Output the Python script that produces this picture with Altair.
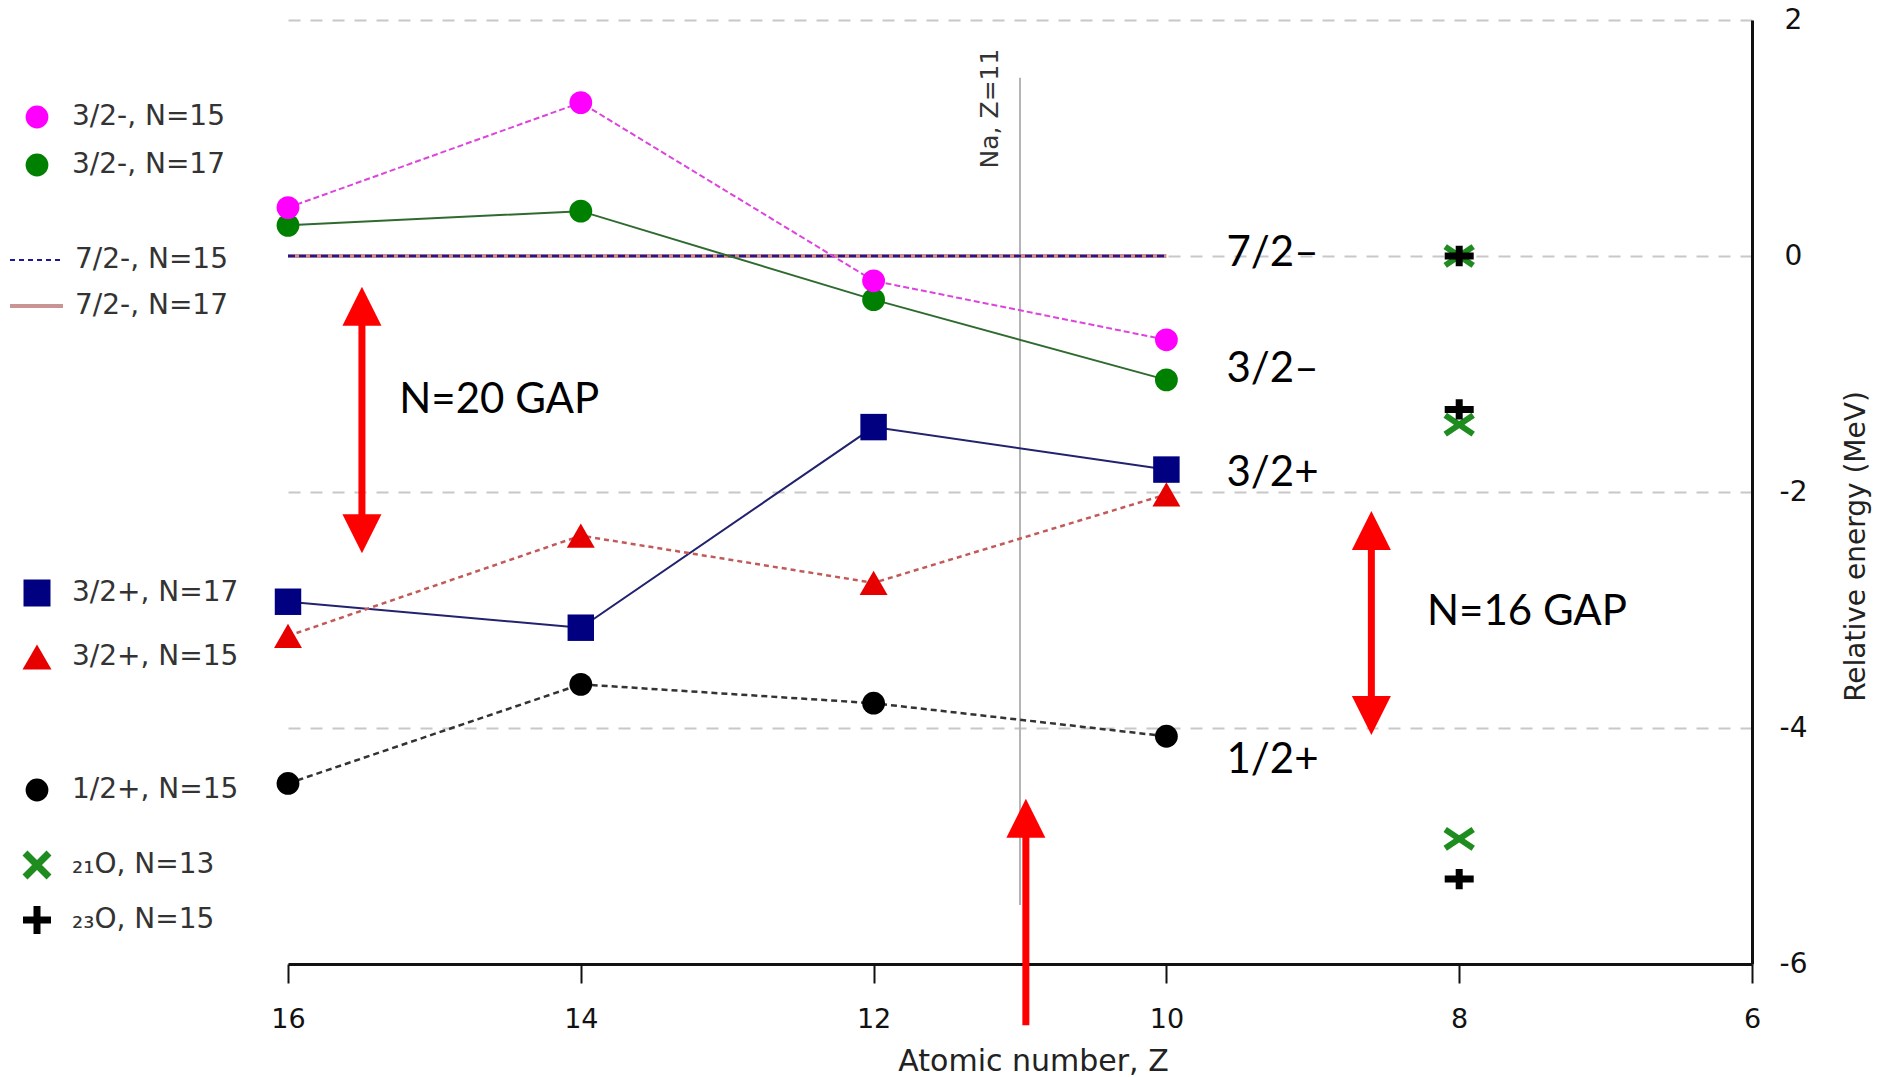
import altair as alt
import pandas as pd

# ---- single-particle level energies (MeV) relative to 7/2- -----------------
Z_CHAIN = [16, 14, 12, 10]            # S, Si, Mg, Ne isotone chains
Z_OXYGEN = [8, 8, 8]

E_3_2M_N15 = [0.41, 1.30, -0.21, -0.71]
E_3_2M_N17 = [0.26, 0.38, -0.37, -1.05]
E_7_2M_N15 = [0.0, 0.0, 0.0, 0.0]
E_7_2M_N17 = [0.0, 0.0, 0.0, 0.0]
E_3_2P_N17 = [-2.93, -3.15, -1.45, -1.81]
E_3_2P_N15 = [-3.22, -2.37, -2.77, -2.02]
E_1_2P_N15 = [-4.47, -3.63, -3.79, -4.07]
E_O21_N13 = [0.0, -1.43, -4.94]
E_O23_N15 = [0.0, -1.30, -5.28]

X_TICKS = [16, 14, 12, 10, 8, 6]
Y_TICKS = [-6, -4, -2, 0, 2]

# level names written next to the Z=10 end of the chains
LEVEL_NAMES = ["7/2\u2013", "3/2\u2013", "3/2+", "1/2+"]
LEVEL_NAME_E = [-0.085, -1.07, -1.95, -4.38]
LEVEL_NAME_Z = 9.59

# shell-gap annotations: (Z, upper tip, lower tip)
GAP_ARROWS = [(15.495, -0.26, -2.52), (8.60, -2.16, -4.06)]
GAP_TEXT = ["N=20 GAP", "N=16 GAP"]
GAP_TEXT_Z = [15.24, 8.22]
GAP_TEXT_E = [-1.33, -3.13]

NA_Z = 11
NA_LINE = (1.51, -5.50)
NA_LABEL_E = 1.25
NA_ARROW = (10.96, -4.60, -6.52)

# ---- shared scales and axes -------------------------------------------------
AXIS_FONT = "DejaVu Sans"
NOTE_FONT = "Lato"
PLAIN_LABEL = "'' + datum.value"   # keep an ASCII hyphen for negatives

XS = alt.Scale(domain=[6, 16], reverse=True, nice=False, zero=False)
YS = alt.Scale(domain=[-6, 2], nice=False, zero=False)

X_AXIS = alt.Axis(
    values=X_TICKS, labelExpr=PLAIN_LABEL, grid=False, orient="bottom",
    domainColor="#111111", domainWidth=3, tickColor="#111111", tickWidth=2,
    tickSize=19, labelFont=AXIS_FONT, labelFontSize=27, labelColor="#111111",
    labelPadding=44, labelBaseline="alphabetic", labelFlush=False,
    title="Atomic number, Z", titleFont=AXIS_FONT, titleFontSize=30,
    titleFontWeight="normal", titleColor="#222222", titleX=745, titleY=106,
    titleBaseline="alphabetic", titleAlign="center")
Y_AXIS = alt.Axis(
    values=Y_TICKS, labelExpr=PLAIN_LABEL, orient="right", grid=True,
    gridColor="#c8c8c8", gridDash=[12, 10], gridWidth=2,
    domainColor="#111111", domainWidth=3, ticks=False,
    labelFont=AXIS_FONT, labelFontSize=28, labelColor="#111111",
    labelPadding=41, labelAlign="center",
    title="Relative energy (MeV)", titleFont=AXIS_FONT, titleFontSize=28,
    titleFontWeight="normal", titleColor="#222222", titleAngle=270,
    titleX=112, titleY=526, titleBaseline="alphabetic", titleAlign="center")

X = alt.X("Z:Q", scale=XS, axis=X_AXIS)
Y = alt.Y("E:Q", scale=YS, axis=Y_AXIS)
Y2 = alt.Y2("E2:Q")

X_PATH = "M-1,-0.67L1,0.67M-1,0.67L1,-0.67"
PLUS_PATH = "M-1,0L1,0M0,-0.7L0,0.7"
X_PATH_SQ = "M-1,-1L1,1M-1,1L1,-1"
PLUS_PATH_SQ = "M-1,0L1,0M0,-1L0,1"
HEAD_UP = "M0,-1L1,1L-1,1Z"
HEAD_DOWN = "M0,1L1,-1L-1,-1Z"

CIRCLE = 520
SQUARE = 700
TRIANGLE = 780


def frame(z, e, e2=None):
    d = {"Z": z, "E": e}
    if e2 is not None:
        d["E2"] = e2
    return pd.DataFrame(d)


def one():
    return pd.DataFrame({"k": [0]})


layers = []

# Na (Z=11) marker line and its label
layers.append(alt.Chart(frame([NA_Z], [NA_LINE[0]], [NA_LINE[1]])).mark_rule(
    color="#b4b4b4", strokeWidth=2).encode(x=X, y=Y, y2=Y2))
layers.append(alt.Chart(frame([NA_Z], [NA_LABEL_E])).mark_text(
    text="Na, Z=11", angle=270, align="center", baseline="alphabetic",
    font=AXIS_FONT, fontSize=25, color="#333333", xOffset=-22).encode(x=X, y=Y))


# connecting lines
def line(values, color, width, dash=None):
    kw = dict(color=color, strokeWidth=width)
    if dash:
        kw["strokeDash"] = dash
    return alt.Chart(frame(Z_CHAIN, values)).mark_line(**kw).encode(x=X, y=Y)


layers += [
    line(E_7_2M_N17, "#d08c8c", 4),
    line(E_7_2M_N15, "#1a1a99", 2.5, [7, 4]),
    line(E_3_2M_N15, "#dd44dd", 2, [6, 3]),
    line(E_3_2M_N17, "#2f6b2f", 2),
    line(E_3_2P_N17, "#22226e", 2),
    line(E_3_2P_N15, "#c25a5a", 2.5, [5, 4]),
    line(E_1_2P_N15, "#333333", 2.5, [6, 4]),
]


# markers
def points(z, values, shape, color, size):
    return alt.Chart(frame(z, values)).mark_point(
        shape=shape, filled=True, color=color, size=size, opacity=1).encode(x=X, y=Y)


def strokes(z, values, shape, color, size, width):
    return alt.Chart(frame(z, values)).mark_point(
        shape=shape, filled=False, color=color, size=size, strokeWidth=width,
        opacity=1).encode(x=X, y=Y)


layers += [
    points(Z_CHAIN, E_3_2M_N17, "circle", "#008000", CIRCLE),
    points(Z_CHAIN, E_3_2M_N15, "circle", "#ff00ff", CIRCLE),
    points(Z_CHAIN, E_3_2P_N15, "triangle-up", "#e60000", TRIANGLE),
    points(Z_CHAIN, E_3_2P_N17, "square", "#000080", SQUARE),
    points(Z_CHAIN, E_1_2P_N15, "circle", "#000000", CIRCLE),
    strokes(Z_OXYGEN, E_O21_N13, X_PATH, "#1e8c1e", 784, 6),
    strokes(Z_OXYGEN, E_O23_N15, PLUS_PATH, "#000000", 841, 7),
]

# level names
names = frame([LEVEL_NAME_Z] * len(LEVEL_NAMES), LEVEL_NAME_E).assign(t=LEVEL_NAMES)
layers.append(alt.Chart(names).mark_text(
    align="left", baseline="alphabetic", font=NOTE_FONT, fontSize=42,
    color="#000000").encode(x=X, y=Y, text="t:N"))

# gap annotations
gaps = frame(GAP_TEXT_Z, GAP_TEXT_E).assign(t=GAP_TEXT)
layers.append(alt.Chart(gaps).mark_text(
    align="left", baseline="alphabetic", font=NOTE_FONT, fontSize=42,
    color="#000000").encode(x=X, y=Y, text="t:N"))

RED = "#ff0000"
HEAD = 39


def head(z, e, path, offset):
    return alt.Chart(frame([z], [e])).mark_point(
        shape=path, filled=True, color=RED, size=HEAD * HEAD, opacity=1,
        yOffset=offset).encode(x=X, y=Y)


for z, top, bottom in GAP_ARROWS:
    layers.append(alt.Chart(frame([z], [top - 0.25], [bottom + 0.25])).mark_rule(
        color=RED, strokeWidth=7).encode(x=X, y=Y, y2=Y2))
    layers.append(head(z, top, HEAD_UP, HEAD / 2))
    layers.append(head(z, bottom, HEAD_DOWN, -HEAD / 2))

az, atip, atail = NA_ARROW
layers.append(alt.Chart(frame([az], [atip - 0.25], [atail])).mark_rule(
    color=RED, strokeWidth=7).encode(x=X, y=Y, y2=Y2))
layers.append(head(az, atip, HEAD_UP, HEAD / 2))

# ---- hand-placed legend in the left margin (pixel offsets from plot origin) --
LEG_SYM_X = -251
LEG_TXT_X = -216
LEGEND = [
    ("3/2-, N=15", 97, "point", dict(shape="circle", color="#ff00ff", size=CIRCLE, filled=True)),
    ("3/2-, N=17", 145, "point", dict(shape="circle", color="#008000", size=CIRCLE, filled=True)),
    ("7/2-, N=15", 240, "line", dict(color="#1a1a99", strokeWidth=2, strokeDash=[5, 4])),
    ("7/2-, N=17", 286, "line", dict(color="#c99494", strokeWidth=4)),
    ("3/2+, N=17", 573, "point", dict(shape="square", color="#000080", size=729, filled=True)),
    ("3/2+, N=15", 637, "point", dict(shape="triangle-up", color="#e60000", size=841, filled=True)),
    ("1/2+, N=15", 770, "point", dict(shape="circle", color="#000000", size=CIRCLE, filled=True)),
    ("\u2082\u2081O, N=13", 845, "point", dict(shape=X_PATH_SQ, color="#1e8c1e", size=576, filled=False, strokeWidth=7)),
    ("\u2082\u2083O, N=15", 900, "point", dict(shape=PLUS_PATH_SQ, color="#000000", size=784, filled=False, strokeWidth=7)),
]
for label, ly, kind, style in LEGEND:
    if kind == "point":
        layers.append(alt.Chart(one()).mark_point(opacity=1, **style).encode(
            x=alt.value(LEG_SYM_X), y=alt.value(ly)))
        tx = LEG_TXT_X
    else:
        layers.append(alt.Chart(one()).mark_rule(**style).encode(
            x=alt.value(LEG_SYM_X - 27), x2=alt.value(LEG_SYM_X + 26), y=alt.value(ly)))
        tx = LEG_TXT_X + 3
    layers.append(alt.Chart(one()).mark_text(
        text=label, align="left", baseline="middle", font=AXIS_FONT, fontSize=28,
        color="#333333").encode(x=alt.value(tx), y=alt.value(ly)))

chart = alt.layer(*layers).properties(
    width=1464, height=944,
    autosize=alt.AutoSizeParams(type="none"),
    padding={"left": 288, "top": 20, "right": 126, "bottom": 113},
    background="white",
).configure_view(stroke=None)

chart.save("out.html", embed_options={"renderer": "svg", "actions": False})
